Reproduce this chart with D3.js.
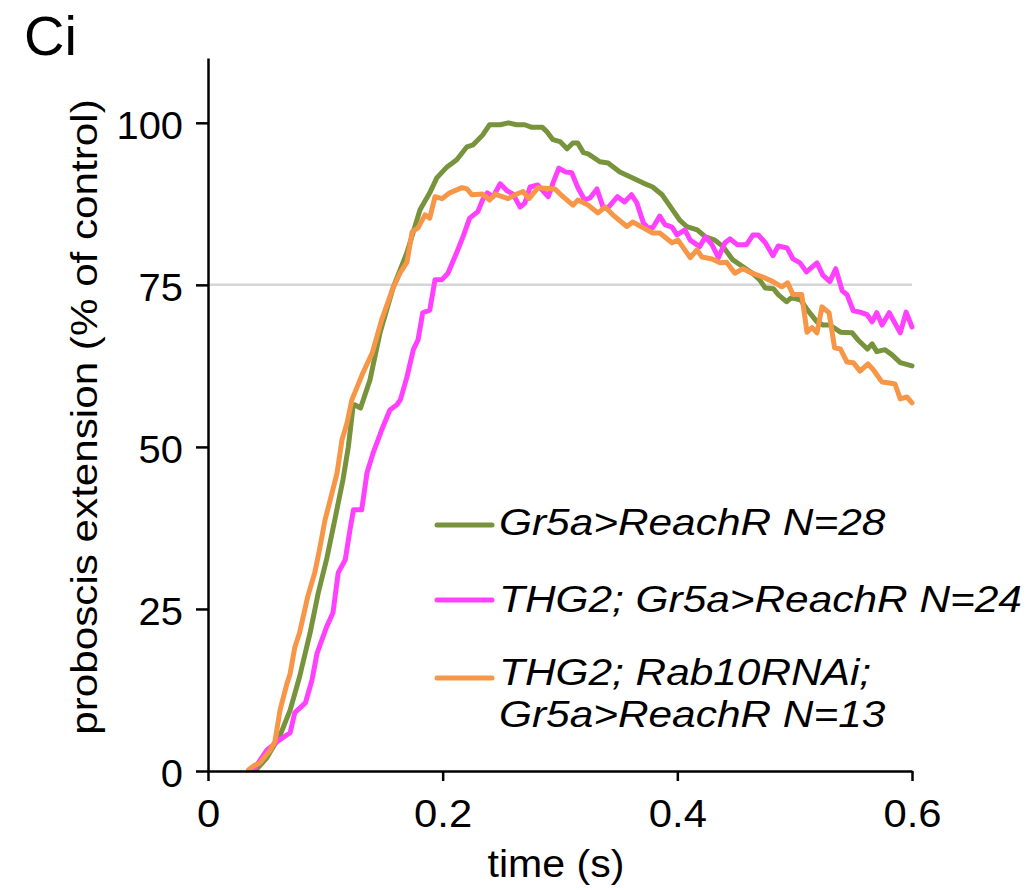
<!DOCTYPE html>
<html>
<head>
<meta charset="utf-8">
<script src="https://cdn.jsdelivr.net/npm/d3@7"></script>
<style>
  body { margin: 0; background: #fff; }
  svg { display: block; font-family: "Liberation Sans", Arial, Helvetica, sans-serif; }
</style>
</head>
<body>
<svg id="chart" width="1036" height="890"></svg>
<script>
// ---- data ----
const seriesNames = ["Gr5a>ReachR N=28", "THG2; Gr5a>ReachR N=24", "THG2; Rab10RNAi;|Gr5a>ReachR N=13"];
const seriesColors = ["#77933C", "#FF40FF", "#F79646"];

const greenT = [0.041,0.050,0.0614,0.070,0.078,0.087,0.094,0.101,0.108,0.115,0.1196,0.1236,0.125,0.130,0.138,0.1466,0.158,0.1696,0.1807,0.189,0.195,0.2037,0.212,0.2207,0.226,0.234,0.240,0.249,0.256,0.263,0.270,0.276,0.285,0.289,0.294,0.300,0.306,0.311,0.315,0.320,0.324,0.334,0.341,0.351,0.362,0.371,0.379,0.387,0.392,0.397,0.402,0.408,0.417,0.424,0.432,0.439,0.447,0.456,0.464,0.470,0.475,0.482,0.486,0.493,0.497,0.505,0.511,0.519,0.524,0.530,0.539,0.549,0.554,0.562,0.566,0.570,0.577,0.583,0.590,0.600];
const greenV = [0.2,2.0,5.5,9.4,14.5,21.3,27.5,32.6,38.7,44.9,50.0,56.2,56.5,56.0,60.3,67.6,74.7,80.0,86.6,89.2,91.5,93.2,94.3,96.3,96.6,98.1,99.7,99.7,100.0,99.7,99.7,99.3,99.3,98.6,97.4,97.1,96.0,96.9,96.9,95.4,95.2,94.0,93.8,92.4,91.5,90.7,90.1,88.9,87.6,86.3,85.0,84.0,83.5,82.4,81.9,80.9,78.9,77.8,76.8,75.8,74.5,74.4,73.5,72.4,73.0,72.7,71.1,69.3,68.8,68.8,67.7,67.6,66.5,65.1,65.9,64.7,65.0,64.2,63.0,62.5];

const magentaT = [0.039,0.050,0.061,0.070,0.074,0.083,0.0886,0.093,0.101,0.1065,0.111,0.117,0.121,0.124,0.131,0.1355,0.1406,0.148,0.155,0.161,0.164,0.1696,0.175,0.179,0.183,0.189,0.1935,0.1994,0.2045,0.212,0.2173,0.223,0.230,0.234,0.238,0.243,0.249,0.255,0.260,0.266,0.270,0.2745,0.281,0.290,0.294,0.299,0.305,0.310,0.315,0.321,0.3256,0.3315,0.3367,0.341,0.349,0.355,0.361,0.3656,0.371,0.375,0.379,0.385,0.3895,0.3955,0.3997,0.4065,0.411,0.419,0.424,0.4295,0.435,0.4406,0.445,0.451,0.459,0.4645,0.469,0.475,0.4815,0.486,0.4935,0.4986,0.5046,0.510,0.519,0.524,0.530,0.535,0.5405,0.5446,0.550,0.5557,0.5617,0.566,0.570,0.5745,0.5806,0.590,0.595,0.600];
const magentaV = [0.2,3.2,4.8,5.9,9.0,10.5,14.0,18.2,22.2,24.4,30.6,32.6,37.2,40.3,40.3,46.0,49.0,52.6,55.7,56.5,57.3,60.8,65.0,66.5,70.7,71.1,75.8,75.8,76.8,80.0,82.4,85.3,86.3,88.1,89.2,88.6,90.6,89.5,89.0,87.0,87.6,90.1,90.4,88.6,90.7,93.0,92.4,92.3,90.1,88.1,88.4,89.8,87.0,86.9,88.6,87.8,88.9,87.6,84.6,83.8,83.8,85.6,84.3,83.9,82.7,83.5,81.9,80.9,82.4,81.2,79.2,81.5,82.1,81.2,81.2,82.7,82.7,81.5,79.5,81.0,80.7,79.0,78.4,77.0,78.4,76.5,75.5,77.5,74.1,73.5,71.0,70.8,70.4,69.3,70.7,68.8,70.7,67.6,70.8,68.5];

const orangeT = [0.0345,0.040,0.044,0.053,0.057,0.0614,0.067,0.070,0.074,0.078,0.085,0.091,0.0955,0.0997,0.1057,0.110,0.1142,0.1185,0.1227,0.1295,0.132,0.140,0.148,0.157,0.1636,0.1696,0.174,0.179,0.185,0.189,0.1935,0.1994,0.206,0.2165,0.2207,0.225,0.234,0.240,0.2446,0.2557,0.2616,0.2685,0.2736,0.2813,0.2957,0.3026,0.311,0.3153,0.324,0.3324,0.3384,0.345,0.357,0.362,0.371,0.379,0.385,0.3955,0.4006,0.411,0.4167,0.421,0.4296,0.4364,0.442,0.449,0.456,0.4636,0.473,0.4815,0.489,0.494,0.4986,0.506,0.5105,0.5148,0.519,0.5233,0.5293,0.534,0.539,0.5446,0.550,0.5557,0.5625,0.567,0.5745,0.5796,0.5855,0.590,0.5957,0.600];
const orangeV = [0.2,0.9,1.2,3.2,4.5,9.4,13.3,15.0,19.1,21.3,26.9,30.6,34.6,38.7,42.9,46.0,51.1,53.7,57.3,60.3,61.4,64.5,69.6,74.2,76.8,78.5,83.2,83.8,85.8,85.3,88.6,88.3,89.2,90.0,89.8,88.9,89.0,88.1,89.0,88.3,88.9,89.4,88.3,90.0,89.8,88.6,87.3,88.1,87.3,86.1,87.0,85.8,84.0,84.7,83.8,83.0,83.0,81.5,81.9,79.2,80.4,79.3,79.0,78.4,78.5,76.8,77.5,76.8,76.2,75.5,74.7,75.3,73.5,73.5,67.7,68.4,67.6,71.6,70.7,65.3,65.1,63.1,63.0,61.7,62.8,61.9,60.0,59.9,59.7,57.4,57.7,56.8];

const xTicks = [0, 0.2, 0.4, 0.6];
const xTickLabels = ["0", "0.2", "0.4", "0.6"];
const yTicks = [0, 25, 50, 75, 100];
const yTickLabels = ["0", "25", "50", "75", "100"];
const refLineValue = 75;

// ---- layout ----
const svg = d3.select("#chart");
const x = d3.scaleLinear().domain([0, 0.6]).range([208, 912]);
const y = d3.scaleLinear().domain([0, 110]).range([771, 58]);
const FS = 38;
const STRETCH = 1.1;

function stretch(sel, f) {
  sel.each(function () {
    const len = this.getComputedTextLength();
    d3.select(this).attr("textLength", len * f).attr("lengthAdjust", "spacingAndGlyphs");
  });
}

// title
svg.append("text").attr("x", 24).attr("y", 55).attr("font-size", 56).attr("fill", "#000").text("Ci");

// reference line
svg.append("line")
  .attr("x1", x(0)).attr("x2", x(0.6))
  .attr("y1", y(refLineValue)).attr("y2", y(refLineValue))
  .attr("stroke", "#d6d6d6").attr("stroke-width", 2.5);

// series
const series = [
  { t: greenT, v: greenV, c: seriesColors[0] },
  { t: magentaT, v: magentaV, c: seriesColors[1] },
  { t: orangeT, v: orangeV, c: seriesColors[2] }
];
const line = d3.line().x(d => x(d[0])).y(d => y(d[1]));
series.forEach(s => {
  const pts = s.t.map((t, i) => [t, s.v[i]]);
  svg.append("path").datum(pts)
    .attr("d", line)
    .attr("fill", "none")
    .attr("stroke", s.c)
    .attr("stroke-width", 5)
    .attr("stroke-linejoin", "round")
    .attr("stroke-linecap", "round");
});

// axes
const yAxis = d3.axisLeft(y).tickValues(yTicks)
  .tickFormat((d, i) => yTickLabels[i]).tickSize(12).tickSizeOuter(0).tickPadding(13);
const gy = svg.append("g").attr("transform", `translate(${x(0)},0)`).call(yAxis);
const xAxis = d3.axisBottom(x).tickValues(xTicks)
  .tickFormat((d, i) => xTickLabels[i]).tickSize(10).tickSizeOuter(0).tickPadding(19);
const gx = svg.append("g").attr("transform", `translate(0,${y(0)})`).call(xAxis);

[gx, gy].forEach(g => {
  g.select(".domain").attr("stroke", "#000").attr("stroke-width", 2.5);
  g.selectAll(".tick line").attr("stroke", "#000").attr("stroke-width", 2.5);
  g.selectAll(".tick text").attr("font-size", FS).attr("fill", "#000")
    .attr("font-family", '"Liberation Sans", Arial, sans-serif');
});
gy.selectAll(".tick text").attr("dy", "0.4em");
stretch(gx.selectAll(".tick text"), STRETCH);
stretch(gy.selectAll(".tick text"), 1.05);

// axis labels
const xl = svg.append("text").attr("x", 556).attr("y", 877).attr("text-anchor", "middle")
  .attr("font-size", FS).attr("fill", "#000").text("time (s)");
stretch(xl, 1.08);
const yl = svg.append("text").attr("transform", "translate(97,417) rotate(-90)").attr("text-anchor", "middle")
  .attr("font-size", 37).attr("fill", "#000").text("proboscis extension (% of control)");
stretch(yl, 1.14);

// legend
const legendY = [525, 600, 678];
const legendBase = [[535], [612], [685, 727]];
seriesNames.forEach((name, i) => {
  svg.append("line").attr("x1", 437).attr("x2", 492)
    .attr("y1", legendY[i]).attr("y2", legendY[i])
    .attr("stroke", seriesColors[i]).attr("stroke-width", 5).attr("stroke-linecap", "round");
  name.split("|").forEach((part, j) => {
    const t = svg.append("text").attr("x", 499).attr("y", legendBase[i][j])
      .attr("font-size", 37.5).attr("font-style", "italic").attr("fill", "#000").text(part);
    stretch(t, 1.13);
  });
});
</script>
</body>
</html>
